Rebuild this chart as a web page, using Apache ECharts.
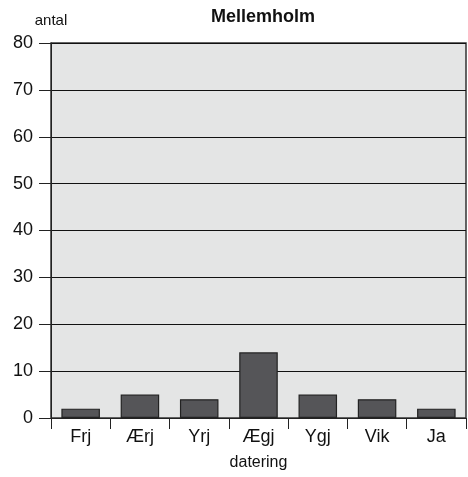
<!DOCTYPE html>
<html>
<head>
<meta charset="utf-8">
<script src="https://cdn.jsdelivr.net/npm/echarts@6/dist/echarts.min.js"></script>
<style>
  html, body { margin: 0; padding: 0; background: #fff; }
  #chart { width: 468px; height: 477px; }
</style>
</head>
<body>
<div id="chart"></div>
<script>
// data
const categories = ['Frj', 'Ærj', 'Yrj', 'Ægj', 'Ygj', 'Vik', 'Ja']
const antal = [2, 5, 4, 14, 5, 4, 2]
const yMin = 0, yMax = 80, yStep = 10

const font = 'Liberation Sans, Arial, Helvetica, sans-serif'

const chart = echarts.init(document.getElementById('chart'))
chart.setOption({
  animation: false,
  title: {
    text: 'Mellemholm',
    left: 258,
    textAlign: 'center',
    top: 3,
    textStyle: { fontFamily: font, fontSize: 18, fontWeight: 'bold', color: '#111' }
  },
  grid: {
    left: 51, right: 2, top: 43, bottom: 59,
    show: true,
    backgroundColor: '#e4e5e5',
    borderColor: '#333',
    borderWidth: 1.5
  },
  xAxis: {
    type: 'category',
    data: categories,
    name: 'datering',
    nameLocation: 'middle',
    nameGap: 37,
    nameTextStyle: { fontFamily: font, fontSize: 16, color: '#111' },
    axisLine: { lineStyle: { color: '#222', width: 1 } },
    axisTick: { show: true, length: 11, lineStyle: { color: '#222' } },
    axisLabel: { fontFamily: font, fontSize: 18, color: '#111', margin: 10 }
  },
  yAxis: {
    type: 'value',
    min: yMin, max: yMax, interval: yStep,
    name: 'antal',
    nameLocation: 'end',
    nameGap: 15,
    nameTextStyle: { fontFamily: font, fontSize: 15, color: '#111' },
    axisLine: { show: true, lineStyle: { color: '#222', width: 1 } },
    axisTick: { show: true, length: 12, lineStyle: { color: '#222' } },
    axisLabel: { fontFamily: font, fontSize: 18, color: '#111', margin: 18 },
    splitLine: { show: true, lineStyle: { color: '#111', width: 1 } }
  },
  series: [{
    type: 'bar',
    data: antal,
    barWidth: '65%',
    itemStyle: { color: '#555558', borderColor: '#222', borderWidth: 1.2 }
  }]
})
</script>
</body>
</html>
